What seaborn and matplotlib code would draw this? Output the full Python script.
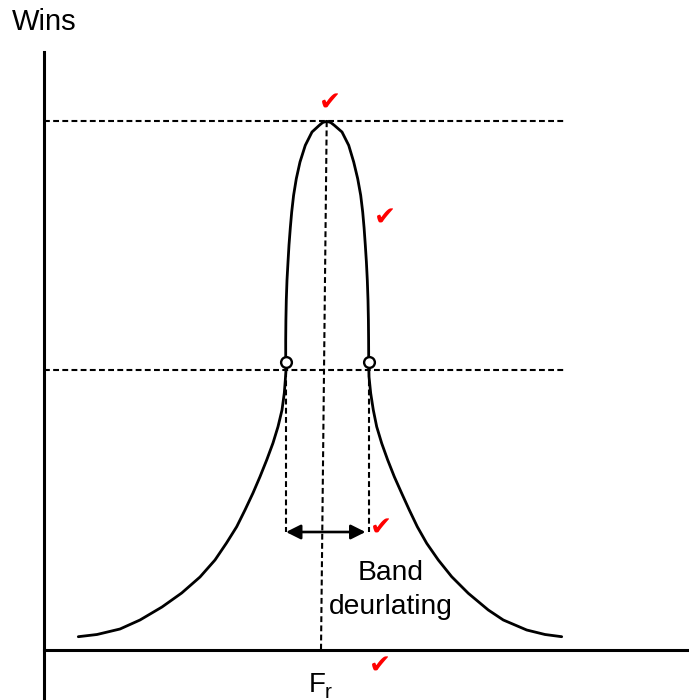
import numpy as np
import pandas as pd
import matplotlib
matplotlib.use("Agg")
import matplotlib.pyplot as plt
import seaborn as sns

# resonance curve (x = frequency, y = wins), left tail -> peak -> right tail
curve_x = [34.3, 53, 76, 96, 118, 137.7, 156, 171, 182.5, 192.7, 201, 209, 216, 222.7, 229, 234,
           238, 240.3, 241.3, 242, 241.7, 241.7, 241.9, 242.3, 243, 244, 245, 246.3, 247.7, 249.6,
           252.3, 256, 261.3, 268, 275.3, 278.7, 282.7,
           286.7, 290.3, 298, 304.7, 309.7, 313.7, 316.7, 318.7, 320.1, 321.3, 322.4, 323.3, 324,
           324.4, 324.6, 324.7, 325, 326.7, 329.3, 332.7, 337.7, 343.7, 350.3, 357.7, 365.3, 373.3,
           382.7, 394.3, 407.7, 424.3, 444.3, 459.3, 482.7, 501, 517.7]
curve_y = [13.3, 15.5, 21, 30, 43, 57, 73, 90, 107, 123.3, 140, 157, 173.3, 190, 207, 223.3,
           240, 257, 270, 280, 288, 310, 330, 350, 370, 388, 405, 422, 438, 454.7,
           471.3, 488, 504.7, 518, 524.7, 527.5, 528.7,
           527.5, 524.7, 518, 504.7, 488, 471.3, 454.7, 438, 422, 405, 388, 370, 350,
           330, 310, 288, 273.3, 256.7, 240, 223.3, 206.7, 190, 173.3, 156.7, 140, 123.3,
           106.7, 90, 73.3, 56.7, 40, 30, 20, 15.5, 13.3]

peak_x, peak_y = 282.7, 528.7
peak_foot_x = 277          # where the centre line meets the frequency axis
half_level = 280           # dotted half-power level
half_x = [242, 324.5]      # half-power points
half_y = [288, 288]
band_y = 118               # height of the bandwidth arrow
x_end = 521                # end of the dotted guide lines

checks = [(286, 546), (341, 431), (337, 121), (336, -17)]

sns.set_theme(style="white")
plt.rcParams['font.family'] = ['Liberation Sans', 'DejaVu Sans']
plt.rcParams['text.color'] = 'black'

fig = plt.figure(figsize=(6.89, 7.0), dpi=100)
ax = fig.add_axes([0, 0, 1, 1])
ax.set_xlim(-44, 645)
ax.set_ylim(-50, 650)

df = pd.DataFrame({"freq": curve_x, "wins": curve_y})
sns.lineplot(data=df, x="freq", y="wins", sort=False, estimator=None,
             color="black", lw=2.0, ax=ax)

dot = dict(color="black", lw=1.5, dashes=(2.8, 1.6))
ax.plot([0, x_end], [peak_y, peak_y], **dot)
ax.plot([0, x_end], [half_level, half_level], **dot)
ax.plot([peak_x, peak_foot_x], [peak_y, 0], **dot)
for hx in half_x:
    ax.plot([hx, hx], [half_y[0], band_y], **dot)

ax.scatter(half_x, half_y, s=60, facecolor="white", edgecolor="black", lw=1.7, zorder=5)

ax.annotate("", xy=(half_x[0], band_y), xytext=(half_x[1] - 3, band_y),
            arrowprops=dict(arrowstyle="<|-|>", color="black", lw=1.9,
                            mutation_scale=22, shrinkA=0, shrinkB=0))

# axes
ax.spines[["top", "right"]].set_visible(False)
ax.spines["left"].set_position(("data", 0))
ax.spines["bottom"].set_position(("data", 0))
ax.spines["left"].set_bounds(-50, 598)
ax.spines["bottom"].set_bounds(0, 645)
for s in ["left", "bottom"]:
    ax.spines[s].set_linewidth(2.2)
    ax.spines[s].set_color("black")
ax.set_xticks([])
ax.set_yticks([])
ax.set_xlabel("")
ax.set_ylabel("")

ax.text(-32, 628, "Wins", fontsize=21, ha="left", va="center")
ax.text(347, 60, "Band\ndeurlating", fontsize=20.3, ha="center", va="center", linespacing=1.45)
ax.text(265, -35, "F", fontsize=20, ha="left", va="center")
ax.text(281, -42, "r", fontsize=15, ha="left", va="center")

for cx, cy in checks:
    ax.text(cx, cy, "\u2714", color="red", fontsize=19, ha="center", va="center",
            family="DejaVu Sans")

fig.savefig("out.png", dpi=100)
